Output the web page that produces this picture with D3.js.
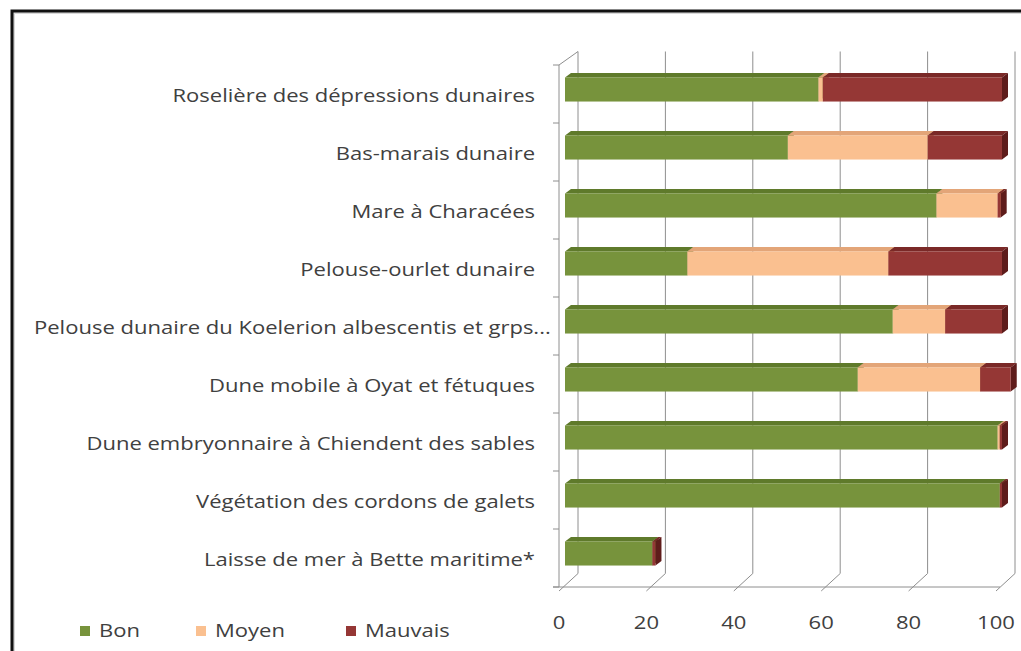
<!DOCTYPE html>
<html>
<head>
<meta charset="utf-8">
<script src="https://cdn.jsdelivr.net/npm/d3@7"></script>
<style>
  body { margin: 0; background: #fff; }
  text { font-family: "Open Sans", sans-serif; fill: #404040; }
</style>
</head>
<body>
<div id="chart"></div>
<script>
var svgWidth = 1021;
var svgHeight = 651;

// categories, top to bottom
var categories = [
  "Roselière des dépressions dunaires",
  "Bas-marais dunaire",
  "Mare à Characées",
  "Pelouse-ourlet dunaire",
  "Pelouse dunaire du Koelerion albescentis et grps...",
  "Dune mobile à Oyat et fétuques",
  "Dune embryonnaire à Chiendent des sables",
  "Végétation des cordons de galets",
  "Laisse de mer à Bette maritime*"
];
var bon = [58, 51, 85, 28, 75, 67, 99, 99.5, 20];
var moyen = [1, 32, 14, 46, 12, 28, 0.5, 0, 0];
var mauvais = [41, 17, 0.7, 26, 13, 7, 0.5, 0.5, 0.7];
var seriesNames = ["Bon", "Moyen", "Mauvais"];
var xTicks = [0, 20, 40, 60, 80, 100];

var colors = {
  Bon: { front: "#77933c", top: "#5f7a2b", side: "#4b6320" },
  Moyen: { front: "#fac090", top: "#e3a578", side: "#c98d60" },
  Mauvais: { front: "#953735", top: "#7a2927", side: "#5e1c1b" }
};

// plot geometry (front plane)
var plot = { left: 559, right: 996, top: 65, bottom: 587 };
var depth = { dx: 19, dy: -13.5 };      // wall depth
var barFront = { dx: 6, dy: -4.5 };     // bar front face offset
var barDepth = { dx: 6, dy: -4.5 };     // bar thickness
var stretch = 1.19;                      // text is drawn wide in the original
var fontSize = 18.5;

var svg = d3.select("#chart").append("svg")
  .attr("width", svgWidth)
  .attr("height", svgHeight);

svg.append("rect").attr("width", svgWidth).attr("height", svgHeight).attr("fill", "#fff");

// frame (cut off at right and bottom)
svg.append("rect")
  .attr("x", 14).attr("y", 13)
  .attr("width", 1040).attr("height", 660)
  .attr("fill", "none").attr("stroke", "#d8d8d8").attr("stroke-width", 2);
svg.append("rect")
  .attr("x", 12).attr("y", 11)
  .attr("width", 1040).attr("height", 660)
  .attr("fill", "none").attr("stroke", "#111").attr("stroke-width", 3);

var x = d3.scaleLinear().domain([0, 100]).range([plot.left, plot.right]);
var y = d3.scaleBand().domain(categories).range([plot.top, plot.bottom])
  .paddingInner(0.585).paddingOuter(0.2925);
var step = y.step();

var gridColor = "#8e8e8e";
var grid = svg.append("g").attr("stroke", gridColor).attr("stroke-width", 1).attr("fill", "none");

// back wall gridlines + floor diagonals
xTicks.forEach(function(t) {
  var px = x(t);
  grid.append("line")
    .attr("x1", px + depth.dx).attr("x2", px + depth.dx)
    .attr("y1", plot.top + depth.dy).attr("y2", plot.bottom + depth.dy);
  grid.append("line")
    .attr("x1", px).attr("y1", plot.bottom + 4)
    .attr("x2", px + depth.dx).attr("y2", plot.bottom + depth.dy);
});

// left wall
grid.append("line")
  .attr("x1", plot.left).attr("x2", plot.left)
  .attr("y1", plot.top).attr("y2", plot.bottom);
grid.append("line")
  .attr("x1", plot.left).attr("y1", plot.top)
  .attr("x2", plot.left + depth.dx).attr("y2", plot.top + depth.dy);
// floor front edge
grid.append("line")
  .attr("x1", plot.left - 6).attr("x2", plot.right + 4)
  .attr("y1", plot.bottom).attr("y2", plot.bottom);

// category ticks
d3.range(categories.length + 1).forEach(function(i) {
  var ty = plot.top + i * step;
  grid.append("line")
    .attr("x1", plot.left - 6).attr("x2", plot.left)
    .attr("y1", ty).attr("y2", ty);
});

// stacked data
var rows = categories.map(function(c, i) {
  return { cat: c, Bon: bon[i], Moyen: moyen[i], Mauvais: mauvais[i] };
});
var stacked = d3.stack().keys(seriesNames)(rows);

var barsG = svg.append("g");
categories.forEach(function(c, i) {
  var g = barsG.append("g");
  stacked.forEach(function(layer) {
    var d = layer[i];
    if (d[1] - d[0] <= 0) return;
    var col = colors[layer.key];
    var x0 = x(d[0]) + barFront.dx;
    var x1 = x(d[1]) + barFront.dx;
    var y0 = y(c) + barFront.dy;
    var h = y.bandwidth();
    var bx = barDepth.dx, by = barDepth.dy;
    // top face
    g.append("path")
      .attr("d", "M" + x0 + "," + y0 + "L" + x1 + "," + y0 +
        "L" + (x1 + bx) + "," + (y0 + by) + "L" + (x0 + bx) + "," + (y0 + by) + "Z")
      .attr("fill", col.top);
    // side face
    g.append("path")
      .attr("d", "M" + x1 + "," + y0 + "L" + (x1 + bx) + "," + (y0 + by) +
        "L" + (x1 + bx) + "," + (y0 + by + h) + "L" + x1 + "," + (y0 + h) + "Z")
      .attr("fill", col.side);
    // front face
    g.append("rect")
      .attr("x", x0).attr("y", y0)
      .attr("width", x1 - x0).attr("height", h)
      .attr("fill", col.front);
  });
});

// places a stretched text at (px, py)
function placeText(sel, px, py, anchor) {
  sel.attr("text-anchor", anchor)
    .attr("transform", "translate(" + px + "," + py + ") scale(" + stretch + ",1)");
}

// category labels
var labelRight = 535;
var labelMinLeft = 34;
svg.append("g").selectAll("text")
  .data(categories)
  .enter()
  .append("text")
  .attr("font-size", fontSize)
  .text(function(d) { return d; })
  .each(function(d) {
    var t = d3.select(this);
    var w = this.getComputedTextLength() * stretch;
    var ty = y(d) + y.bandwidth() / 2 + 8;
    if (labelRight - w < labelMinLeft) {
      placeText(t, labelMinLeft, ty, "start");
    } else {
      placeText(t, labelRight, ty, "end");
    }
  });

// x tick labels
svg.append("g").selectAll("text")
  .data(xTicks)
  .enter()
  .append("text")
  .attr("font-size", fontSize)
  .text(function(d) { return d; })
  .each(function(d) { placeText(d3.select(this), x(d), 629, "middle"); });

// legend
var legendX = [80, 196, 346];
var legend = svg.append("g");
seriesNames.forEach(function(s, i) {
  legend.append("rect")
    .attr("x", legendX[i]).attr("y", 626)
    .attr("width", 10).attr("height", 10)
    .attr("fill", colors[s].front);
  var t = legend.append("text")
    .attr("font-size", fontSize)
    .text(s);
  placeText(t, legendX[i] + 19, 637, "start");
});
</script>
</body>
</html>
